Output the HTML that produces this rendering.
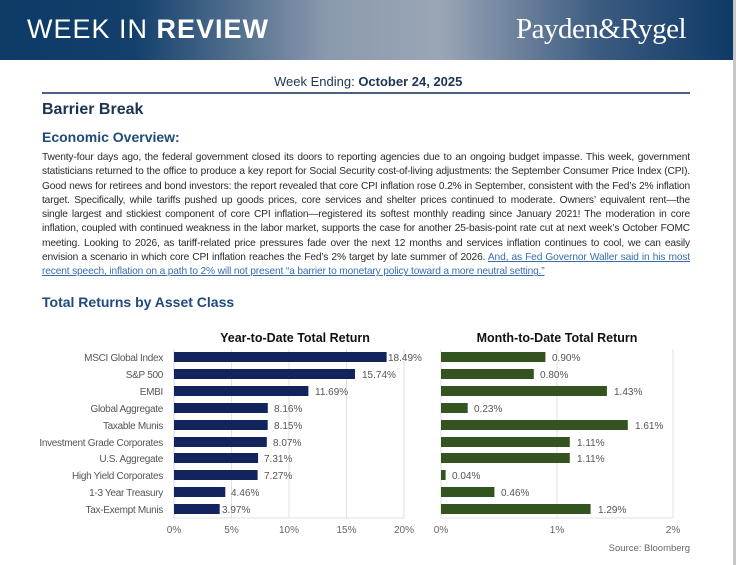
<!DOCTYPE html>
<html><head><meta charset="utf-8"><style>
html,body{margin:0;padding:0;background:#fff;width:736px;height:565px;overflow:hidden;font-family:"Liberation Sans",sans-serif}
.hdr{position:absolute;left:0;top:0;width:733px;height:60px;background:linear-gradient(90deg,#0d3a66 0%,#123f6b 18%,#8c9aae 45%,#9aa6b6 60%,#3b5a80 82%,#0d3a66 100%)}
.t{position:absolute;white-space:nowrap}
.p{position:absolute;left:42px;width:648px;font-size:10.2px;color:#2a2a2a;letter-spacing:-0.15px}
.p div{height:14.3px;line-height:14.3px;text-align:justify;text-align-last:justify;white-space:nowrap;overflow:hidden}
.p div.l{text-align-last:left}
a{color:#3a6ea8;text-decoration:underline}
</style></head><body>
<div class="hdr"></div>
<div class="t" style="left:27px;top:14px;font-size:27px;color:#fff;letter-spacing:1px">WEEK IN <b>REVIEW</b></div>
<div class="t" style="left:516px;top:13px;font-size:29px;color:#fff;font-family:'Liberation Serif',serif;letter-spacing:-0.5px">Payden&amp;Rygel</div>
<div style="position:absolute;left:733px;top:0;width:3px;height:565px;background:#c8c8c8"></div>
<div class="t" style="left:274px;top:74px;font-size:13px;color:#1d3557">Week Ending: <b>October 24, 2025</b></div>
<div style="position:absolute;left:42px;top:92px;width:648px;height:2px;background:#4a6280"></div>
<div class="t" style="left:42px;top:101px;font-size:16px;font-weight:bold;color:#1a3352">Barrier Break</div>
<div class="t" style="left:42px;top:129px;font-size:14px;font-weight:bold;color:#1f4a7a">Economic Overview:</div>
<div class="p" style="top:151px">
<div>Twenty-four days ago, the federal government closed its doors to reporting agencies due to an ongoing budget impasse. This week, government</div>
<div>statisticians returned to the office to produce a key report for Social Security cost-of-living adjustments: the September Consumer Price Index (CPI).</div>
<div>Good news for retirees and bond investors: the report revealed that core CPI inflation rose 0.2% in September, consistent with the Fed’s 2% inflation</div>
<div>target. Specifically, while tariffs pushed up goods prices, core services and shelter prices continued to moderate. Owners’ equivalent rent—the</div>
<div>single largest and stickiest component of core CPI inflation—registered its softest monthly reading since January 2021! The moderation in core</div>
<div>inflation, coupled with continued weakness in the labor market, supports the case for another 25-basis-point rate cut at next week’s October FOMC</div>
<div>meeting. Looking to 2026, as tariff-related price pressures fade over the next 12 months and services inflation continues to cool, we can easily</div>
<div>envision a scenario in which core CPI inflation reaches the Fed’s 2% target by late summer of 2026. <a>And, as Fed Governor Waller said in his most</a></div>
<div class="l"><a>recent speech, inflation on a path to 2% will not present “a barrier to monetary policy toward a more neutral setting.”</a></div>
</div>
<div class="t" style="left:42px;top:294px;font-size:14px;font-weight:bold;color:#1f4a7a">Total Returns by Asset Class</div>
<svg width="736" height="565" style="position:absolute;left:0;top:0" font-family="Liberation Sans, sans-serif">
<text x="295" y="342" text-anchor="middle" font-size="12.5" font-weight="bold" fill="#111">Year-to-Date Total Return</text>
<text x="557" y="342" text-anchor="middle" font-size="12.5" font-weight="bold" fill="#111">Month-to-Date Total Return</text>
<g stroke="#e2e2e2" stroke-width="1" fill="none">
<line x1="231.5" y1="349" x2="231.5" y2="518"/><line x1="289" y1="349" x2="289" y2="518"/><line x1="346.5" y1="349" x2="346.5" y2="518"/><line x1="404" y1="349" x2="404" y2="518"/>
<line x1="557" y1="349" x2="557" y2="518"/><line x1="673" y1="349" x2="673" y2="518"/>
<line x1="174" y1="518" x2="404" y2="518"/><line x1="441" y1="518" x2="673" y2="518"/>
<line x1="174" y1="349" x2="174" y2="518" stroke="#cfd6e3"/><line x1="441" y1="349" x2="441" y2="518"/>
</g>
<g font-size="10" fill="#555" letter-spacing="-0.3">
<text x="163" y="361" text-anchor="end">MSCI Global Index</text>
<text x="163" y="378" text-anchor="end">S&amp;P 500</text>
<text x="163" y="395" text-anchor="end">EMBI</text>
<text x="163" y="412" text-anchor="end">Global Aggregate</text>
<text x="163" y="429" text-anchor="end">Taxable Munis</text>
<text x="163" y="446" text-anchor="end">Investment Grade Corporates</text>
<text x="163" y="462" text-anchor="end">U.S. Aggregate</text>
<text x="163" y="479" text-anchor="end">High Yield Corporates</text>
<text x="163" y="496" text-anchor="end">1-3 Year Treasury</text>
<text x="163" y="513" text-anchor="end">Tax-Exempt Munis</text>
</g>
<g fill="#12245e">
<rect x="174" y="352" width="212.6" height="10"/>
<rect x="174" y="369" width="181" height="10"/>
<rect x="174" y="386" width="134.4" height="10"/>
<rect x="174" y="403" width="93.8" height="10"/>
<rect x="174" y="420" width="93.7" height="10"/>
<rect x="174" y="437" width="92.8" height="10"/>
<rect x="174" y="453" width="84.1" height="10"/>
<rect x="174" y="470" width="83.6" height="10"/>
<rect x="174" y="487" width="51.3" height="10"/>
<rect x="174" y="504" width="45.7" height="10"/>
</g>
<g font-size="10" fill="#555">
<text x="388" y="361">18.49%</text><text x="362" y="378">15.74%</text><text x="315" y="395">11.69%</text>
<text x="274" y="412">8.16%</text><text x="274" y="429">8.15%</text><text x="273" y="446">8.07%</text>
<text x="264" y="462">7.31%</text><text x="264" y="479">7.27%</text><text x="231" y="496">4.46%</text><text x="222" y="513">3.97%</text>
</g>
<g fill="#34541f">
<rect x="441" y="352" width="104.4" height="10"/>
<rect x="441" y="369" width="92.8" height="10"/>
<rect x="441" y="386" width="165.9" height="10"/>
<rect x="441" y="403" width="26.7" height="10"/>
<rect x="441" y="420" width="186.8" height="10"/>
<rect x="441" y="437" width="128.8" height="10"/>
<rect x="441" y="453" width="128.8" height="10"/>
<rect x="441" y="470" width="4.6" height="10"/>
<rect x="441" y="487" width="53.4" height="10"/>
<rect x="441" y="504" width="149.6" height="10"/>
</g>
<g font-size="10" fill="#555">
<text x="552" y="361">0.90%</text><text x="540" y="378">0.80%</text><text x="614" y="395">1.43%</text>
<text x="474" y="412">0.23%</text><text x="635" y="429">1.61%</text><text x="577" y="446">1.11%</text>
<text x="577" y="462">1.11%</text><text x="452" y="479">0.04%</text><text x="501" y="496">0.46%</text><text x="598" y="513">1.29%</text>
</g>
<g font-size="10" fill="#666" text-anchor="middle">
<text x="174" y="533">0%</text><text x="231.5" y="533">5%</text><text x="289" y="533">10%</text><text x="346.5" y="533">15%</text><text x="404" y="533">20%</text>
<text x="441" y="533">0%</text><text x="557" y="533">1%</text><text x="673" y="533">2%</text>
</g>
<text x="690" y="551" text-anchor="end" font-size="9.5" fill="#666">Source: Bloomberg</text>
</svg>
</body></html>
